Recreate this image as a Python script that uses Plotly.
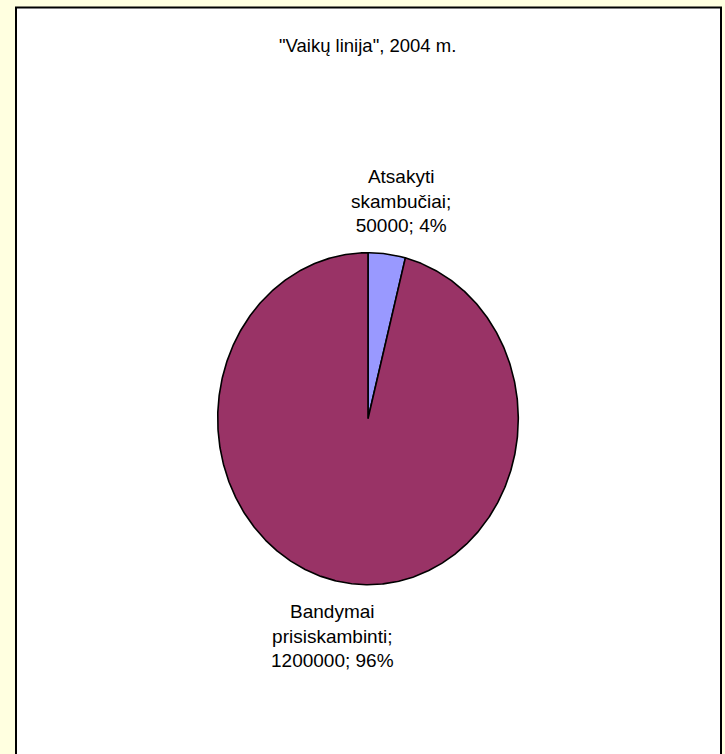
import numpy as np
import plotly.graph_objects as go

# ---- data ----
title_text = '"Vaikų linija", 2004 m.'
categories = ["Atsakyti<br>skambučiai;", "Bandymai<br>prisiskambinti;"]
values = [50000, 1200000]
colors = ["#9999FF", "#993366"]

# ---- layout helpers (pixel geometry of the reference) ----
W, H = 725, 754
cx, cy = 368.0, 418.7      # pie centre in px (from top-left)
rx, ry = 150.3, 166.0      # ellipse radii in px
label_pos = [(0.22, 1.31), (-0.233, -1.309)]  # label centres in unit-ellipse coords

fig = go.Figure()

total = sum(values)
cum = 0.0
for name, v, col in zip(categories, values, colors):
    f0 = cum / total
    f1 = (cum + v) / total
    cum += v
    th = np.linspace(np.pi / 2 - 2 * np.pi * f0, np.pi / 2 - 2 * np.pi * f1,
                     max(8, int(720 * (f1 - f0))))
    xs = np.concatenate([[0], np.cos(th), [0]])
    ys = np.concatenate([[0], np.sin(th), [0]])
    fig.add_trace(go.Scatter(x=xs, y=ys, mode="lines", fill="toself",
                             fillcolor=col, line=dict(color="black", width=1.6),
                             hoverinfo="skip", showlegend=False))

for (lx, ly), name, v in zip(label_pos, categories, values):
    pct = round(100 * v / total)
    fig.add_annotation(x=lx, y=ly, xref="x", yref="y",
                       text=f"{name}<br>{v}; {pct}%", showarrow=False,
                       font=dict(family="Liberation Sans, Arial", size=19, color="black"),
                       align="center", xanchor="center", yanchor="middle")

fig.add_annotation(x=367 / W, y=1 - 46 / H, xref="paper", yref="paper",
                   text=title_text, showarrow=False, xanchor="center", yanchor="middle",
                   font=dict(family="Liberation Sans, Arial", size=18.5, color="black"))

# white chart box with black border
fig.add_shape(type="rect", xref="paper", yref="paper",
              x0=16 / W, x1=721 / W, y0=-0.05, y1=1 - 7.5 / H,
              fillcolor="white", line=dict(color="black", width=2), layer="below")

fig.update_xaxes(range=[-cx / rx, (W - cx) / rx], visible=False, fixedrange=True)
fig.update_yaxes(range=[-(H - cy) / ry, cy / ry], visible=False, fixedrange=True)
fig.update_layout(width=W, height=H, margin=dict(l=0, r=0, t=0, b=0),
                  paper_bgcolor="#FFFFE0", plot_bgcolor="rgba(0,0,0,0)",
                  showlegend=False)

fig.write_html("out.html", post_script="document.body.style.margin='0';",
               config={"displayModeBar": False})
